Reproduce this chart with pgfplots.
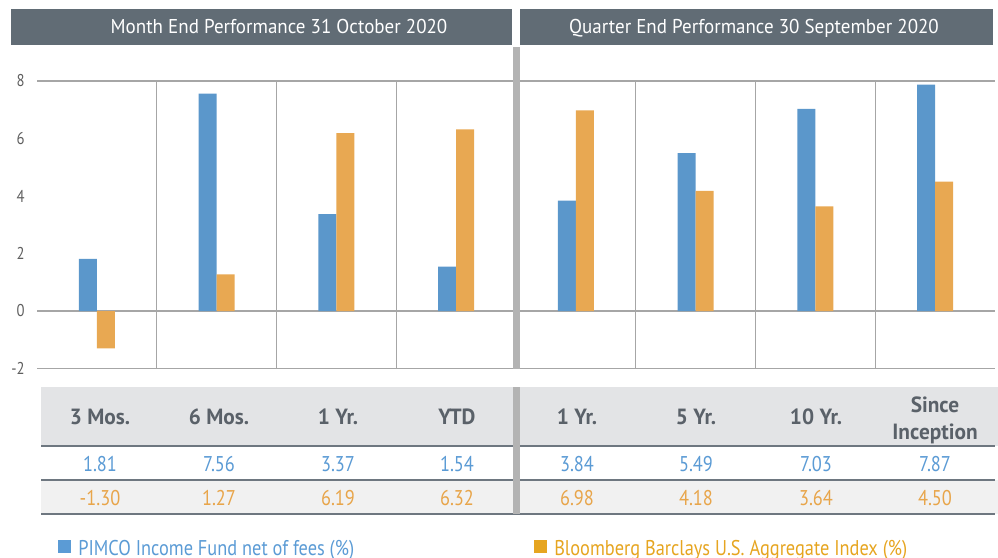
\documentclass[border=0pt]{standalone}
\usepackage{pgfplots}
\pgfplotsset{compat=1.18}
\usepackage{fontspec}
\setmainfont{PT Sans}[FakeStretch=0.86]
\newfontfamily\ttlfont{PT Sans}[FakeStretch=0.95]
\newfontfamily\hdfont{PT Sans Bold}[FakeStretch=0.97]
\definecolor{hdr}{HTML}{616C75}
\definecolor{barblue}{HTML}{5B97CB}
\definecolor{barorange}{HTML}{E8A852}
\definecolor{gridc}{HTML}{A6A6A6}
\definecolor{sep}{HTML}{B3B3B3}
\definecolor{tblhead}{HTML}{E3E4E6}
\definecolor{tblrow}{HTML}{F1F1F1}
\definecolor{tblline}{HTML}{6E7780}
\definecolor{hdtext}{HTML}{5A6169}
\definecolor{ticktext}{HTML}{5F5F5F}
\definecolor{txtblue}{HTML}{5B9BD5}
\definecolor{txtorange}{HTML}{E8A54A}
\definecolor{legorange}{HTML}{E6A520}
\definecolor{legblue}{HTML}{5B9BD5}
\begin{document}
\begin{tikzpicture}
\useasboundingbox (0pt,0pt) rectangle (748.5pt,-417.75pt);
\begin{scope}[x=0.75pt,y=-0.75pt]
% header bars
\fill[hdr] (11,9) rectangle (512,45);
\fill[hdr] (520,9) rectangle (993,45);
\node[anchor=base, text=white, font=\fontsize{15}{18}\ttlfont, inner sep=0pt] at (279,33.5) {Month End Performance 31 October 2020};
\node[anchor=base, text=white, font=\fontsize{15}{18}\ttlfont, inner sep=0pt] at (754,33.5) {Quarter End Performance 30 September 2020};
\end{scope}
% chart
\begin{axis}[at={(27.75pt,-276.375pt)}, anchor=south west, scale only axis,
  width=718.5pt, height=215.625pt,
  xmin=-0.5, xmax=7.5, ymin=-2, ymax=8,
  ybar=0pt, bar width=13.5pt,
  axis line style={draw=none},
  xtick=\empty, ytick={-2,0,2,4,6,8},
  major tick length=0pt,
  /pgf/number format/assume math mode=true,
  yticklabel style={font=\fontsize{12.8}{14}\selectfont, text=ticktext, inner sep=0pt, xshift=-9pt},
  clip=false]
\draw[gridc, line width=0.9pt] (axis cs:-0.5,8) -- (axis cs:7.5,8);
\draw[gridc, line width=0.9pt] (axis cs:-0.5,0) -- (axis cs:7.5,0);
\draw[gridc, line width=0.9pt] (axis cs:-0.5,-2) -- (axis cs:7.5,-2);
\foreach \xx in {0.5,1.5,2.5,4.5,5.5,6.5}{
  \edef\tmp{\noexpand\draw[gridc, line width=0.9pt] (axis cs:\xx,-2) -- (axis cs:\xx,8);}\tmp
}
\addplot[fill=barblue, draw=none] coordinates {(0,1.81) (1,7.56) (2,3.37) (3,1.54) (4,3.84) (5,5.49) (6,7.03) (7,7.87)};
\addplot[fill=barorange, draw=none] coordinates {(0,-1.30) (1,1.27) (2,6.19) (3,6.32) (4,6.98) (5,4.18) (6,3.64) (7,4.50)};
\end{axis}
\begin{scope}[x=0.75pt,y=-0.75pt]
% table
\fill[tblhead] (41,387) rectangle (998,446);
\fill[white] (41,446) rectangle (998,480);
\fill[tblrow] (41,480) rectangle (998,514);
\draw[tblline, line width=1.4pt] (41,446) -- (995,446);
\draw[tblline, line width=1.2pt] (41,480) -- (995,480);
\draw[tblline, line width=1.6pt] (41,514) -- (995,514);
% thick separator
\fill[sep] (513,47) rectangle (520,368.5);
\fill[sep] (513,387) rectangle (520,514);
% table text
\begin{scope}[every node/.style={inner sep=0pt}]
\foreach \xc/\lab in {100/3 Mos., 219/6 Mos., 338/1 Yr., 457/YTD, 577/1 Yr., 696/5 Yr., 816/10 Yr.}{
  \node[anchor=base, text=hdtext, font=\fontsize{16.5}{19}\hdfont] at (\xc,424.5) {\lab};
}
\node[anchor=base, text=hdtext, font=\fontsize{16.5}{19}\hdfont] at (935,412) {Since};
\node[anchor=base, text=hdtext, font=\fontsize{16.5}{19}\hdfont] at (935,439) {Inception};
\foreach \xc/\v in {100/1.81, 219/7.56, 338/3.37, 457/1.54, 577/3.84, 696/5.49, 816/7.03, 935/7.87}{
  \node[anchor=base, text=txtblue, font=\fontsize{16}{19}\selectfont] at (\xc,471.5) {\v};
}
\foreach \xc/\v in {100/-1.30, 219/1.27, 338/6.19, 457/6.32, 577/6.98, 696/4.18, 816/3.64, 935/4.50}{
  \node[anchor=base, text=txtorange, font=\fontsize{16}{19}\selectfont] at (\xc,505.5) {\v};
}
% legend
\fill[legblue] (58,540) rectangle (71,553);
\node[anchor=base west, text=legblue, font=\fontsize{16}{19}\selectfont] at (78,555) {PIMCO Income Fund net of fees (\%)};
\fill[legorange] (534,540) rectangle (547,553);
\node[anchor=base west, text=legorange, font=\fontsize{16}{19}\selectfont] at (554,555) {Bloomberg Barclays U.S. Aggregate Index (\%)};
\end{scope}
\end{scope}
\end{tikzpicture}
\end{document}
